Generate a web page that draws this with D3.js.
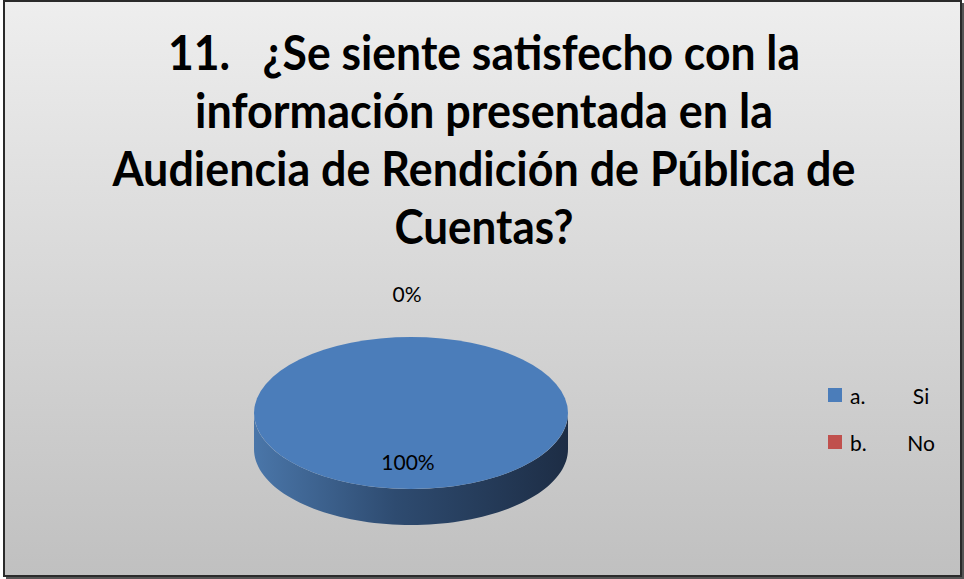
<!DOCTYPE html>
<html>
<head>
<meta charset="utf-8">
<script src="https://cdn.jsdelivr.net/npm/d3@7"></script>
<style>
  html, body { margin: 0; padding: 0; background: #ffffff; }
  svg { display: block; }
</style>
</head>
<body>
<svg id="chart" width="964" height="579"></svg>
<script>
// Survey question 11 – answer shares
const categories = ["a.", "b."];
const answerLabels = ["Si", "No"];
const shares = [100, 0];
const sliceColors = ["#4b7dba", "#c0504d"];
const titleLines = [
  "11.   ¿Se siente satisfecho con la",
  "información presentada en la",
  "Audiencia de Rendición de Pública de",
  "Cuentas?"
];

const W = 964, H = 579;
const svg = d3.select("#chart");
const defs = svg.append("defs");

// chart area background
const bg = defs.append("linearGradient").attr("id", "bgGrad")
  .attr("x1", 0).attr("y1", 0).attr("x2", 0).attr("y2", 1);
bg.append("stop").attr("offset", "0%").attr("stop-color", "#eeeeee");
bg.append("stop").attr("offset", "100%").attr("stop-color", "#c0c0c0");

// pie wall shading, lit from the left
const wall = defs.append("linearGradient").attr("id", "wallGrad")
  .attr("x1", 0).attr("y1", 0).attr("x2", 1).attr("y2", 0);
wall.append("stop").attr("offset", "0%").attr("stop-color", "#4a76a9");
wall.append("stop").attr("offset", "45%").attr("stop-color", "#2e4b70");
wall.append("stop").attr("offset", "100%").attr("stop-color", "#1d2d45");

// frame with shadow
svg.append("rect").attr("x", 6).attr("y", 3).attr("width", 958).attr("height", 576).attr("fill", "#555");
svg.append("rect").attr("x", 4).attr("y", 1).attr("width", 957).attr("height", 575)
  .attr("fill", "url(#bgGrad)").attr("stroke", "#2a2a2a").attr("stroke-width", 2);

// title
const titleFont = "Lato, 'Open Sans', 'DejaVu Sans', sans-serif";
const titleWidths = [632, 578, 743, 179];
const titleX = 484;
const baseY = 70, lineStep = 58;
titleLines.forEach((t, i) => {
  svg.append("text")
    .attr("x", titleX).attr("y", baseY + i * lineStep)
    .attr("text-anchor", "middle")
    .attr("font-family", titleFont)
    .attr("font-weight", "bold")
    .attr("font-size", 47)
    .attr("fill", "#000")
    .attr("textLength", titleWidths[i])
    .attr("lengthAdjust", "spacingAndGlyphs")
    .style("white-space", "pre")
    .text(t);
});

// 3D pie geometry
const cx = 411, cy = 413, rx = 157, ry = 76, depth = 36;
const tilt = ry / rx;

const pie = d3.pie().sort(null).value(d => d)(shares);
const arc = d3.arc().innerRadius(0).outerRadius(rx);

// point on the rim of the tilted ellipse for angle a (0 = top, clockwise)
const rim = (a, dy = 0) => [cx + rx * Math.sin(a), cy - ry * Math.cos(a) + dy];

// side wall for the visible (front) part of each slice
function wallPath(s, e) {
  const a0 = Math.max(s, Math.PI / 2), a1 = Math.min(e, 3 * Math.PI / 2);
  if (a1 <= a0) return null;
  const n = 80, top = [], bot = [];
  for (let k = 0; k <= n; k++) {
    const a = a0 + (a1 - a0) * k / n;
    top.push(rim(a));
    bot.push(rim(a, depth));
  }
  return "M" + top.map(p => p.join(",")).join("L") +
         "L" + bot.reverse().map(p => p.join(",")).join("L") + "Z";
}

const pieG = svg.append("g");
pie.forEach((d, i) => {
  if (d.endAngle - d.startAngle <= 0) return;
  const p = wallPath(d.startAngle, d.endAngle);
  if (p) pieG.append("path").attr("d", p)
    .attr("fill", i === 0 ? "url(#wallGrad)" : d3.color(sliceColors[i]).darker(1));
});
const topG = pieG.append("g")
  .attr("transform", `translate(${cx},${cy}) scale(1,${tilt})`);
pie.forEach((d, i) => {
  if (d.endAngle - d.startAngle <= 0) return;
  topG.append("path").attr("d", arc(d)).attr("fill", sliceColors[i]);
});

// data labels
const labelFont = "Lato, 'Open Sans', 'DejaVu Sans', sans-serif";
pie.forEach((d, i) => {
  const pct = d.data + "%";
  let x, y;
  if (d.endAngle - d.startAngle >= 2 * Math.PI - 1e-6) {
    x = cx - 3; y = cy + 48;
  } else if (d.endAngle - d.startAngle <= 0) {
    const p = rim(d.startAngle, -44);
    x = p[0] - 4; y = p[1];
  } else {
    const mid = (d.startAngle + d.endAngle) / 2;
    const p = rim(mid); x = (p[0] + cx) / 2; y = (p[1] + cy) / 2;
  }
  svg.append("text").attr("x", x).attr("y", y)
    .attr("text-anchor", "middle").attr("dominant-baseline", "central")
    .attr("font-family", labelFont).attr("font-size", 21).attr("fill", "#000")
    .text(pct);
});

// legend
const legendY = d3.scalePoint().domain(categories).range([395, 442]);
categories.forEach((c, i) => {
  const y = legendY(c);
  svg.append("rect").attr("x", 828).attr("y", y - 7).attr("width", 14).attr("height", 14)
    .attr("fill", sliceColors[i]);
  svg.append("text").attr("x", 850).attr("y", y).attr("dominant-baseline", "central")
    .attr("font-family", labelFont).attr("font-size", 21).attr("fill", "#000").text(c);
  svg.append("text").attr("x", 921).attr("y", y)
    .attr("text-anchor", "middle").attr("dominant-baseline", "central")
    .attr("font-family", labelFont).attr("font-size", 21).attr("fill", "#000")
    .text(answerLabels[i]);
});
</script>
</body>
</html>
